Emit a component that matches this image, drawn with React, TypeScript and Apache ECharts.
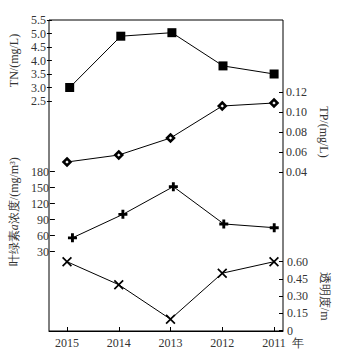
import React, { useEffect, useRef } from "react";
import * as echarts from "echarts";

const years = ["2015", "2014", "2013", "2012", "2011"];
const tn = [3.0, 4.9, 5.03, 3.8, 3.5];
const tp = [0.05, 0.057, 0.074, 0.106, 0.109];
const chl = [56, 100, 152, 82, 75];
const sd = [0.6, 0.4, 0.1, 0.5, 0.6];

const XMIN = -0.348;
const XMAX = 4.174;
const FONT = "Liberation Serif";
const TXT = "#333";

const PLUS = "path://M3.4,0H6.6V3.4H10V6.6H6.6V10H3.4V6.6H0V3.4H3.4Z";
const CROSS = "path://M0,1.2L1.2,0L5,3.8L8.8,0L10,1.2L6.2,5L10,8.8L8.8,10L5,6.2L1.2,10L0,8.8L3.8,5Z";

export default function App() {
  const ref = useRef<HTMLDivElement>(null);
  useEffect(() => {
    if (!ref.current) return;
    const chart = echarts.init(ref.current, null, { renderer: "svg" });
    const L = 49, R = 78;
    const pts = (arr: number[]) => arr.map((v, i) => [i, v]);
    const hiddenX = (g: number) => ({ gridIndex: g, type: "value", min: XMIN, max: XMAX, show: false, axisLine: { onZero: false } });
    const label = (margin: number, fmt: (v: number) => string) => ({
      margin, fontSize: 12, color: TXT, fontFamily: FONT, formatter: fmt,
    });
    const nameStyle = { fontSize: 12, color: TXT, fontFamily: FONT, rich: { i: { fontStyle: "italic", fontSize: 12, color: TXT, fontFamily: FONT } } };
    const lineSeries = (idx: number, data: number[], symbol: string, size: number, item: any) => ({
      type: "line", xAxisIndex: idx, yAxisIndex: idx, data: pts(data), symbol, symbolSize: size,
      showAllSymbol: true, lineStyle: { color: "#000", width: 1 }, itemStyle: item,
    });
    chart.setOption({
      animation: false,
      grid: [
        { left: L, right: R, top: 20, bottom: 22, show: true, borderColor: "#000", borderWidth: 1, backgroundColor: "transparent" },
        { left: L, right: R, top: 20, height: 81 },
        { left: L, right: R, top: 92, height: 80 },
        { left: L, right: R, top: 171.7, height: 80 },
        { left: L, right: R, top: 261.7, height: 69 },
      ],
      xAxis: [
        {
          gridIndex: 0, type: "value", min: XMIN, max: XMAX, position: "bottom",
          axisLine: { show: true, onZero: false, lineStyle: { color: "#000", width: 1 } },
          axisTick: { show: true, inside: true, length: 4, lineStyle: { color: "#000" }, customValues: [0, 1, 2, 3, 4] },
          axisLabel: { ...label(6, (v: number) => years[Math.round(v)] ?? ""), customValues: [0, 1, 2, 3, 4] },
          splitLine: { show: false },
          name: "年", nameLocation: "end", nameGap: 4,
          nameTextStyle: { ...nameStyle, verticalAlign: "top", padding: [6, 0, 0, 0] },
        },
        hiddenX(1), hiddenX(2), hiddenX(3), hiddenX(4),
      ],
      yAxis: [
        { gridIndex: 0, type: "value", min: 0, max: 1, show: false, axisLine: { onZero: false } },
        {
          gridIndex: 1, type: "value", position: "left", min: 2.5, max: 5.5, interval: 0.5,
          axisLine: { show: false, onZero: false }, splitLine: { show: false },
          axisTick: { show: true, inside: false, length: 5, lineStyle: { color: "#000" } },
          axisLabel: label(6, (v: number) => v.toFixed(1)),
          name: "TN/(mg/L)", nameLocation: "middle", nameGap: 23, nameTextStyle: nameStyle,
        },
        {
          gridIndex: 2, type: "value", position: "right", min: 0.04, max: 0.12, interval: 0.02,
          axisLine: { show: false, onZero: false }, splitLine: { show: false },
          axisTick: { show: true, inside: true, length: 4, lineStyle: { color: "#000" } },
          axisLabel: label(3, (v: number) => v.toFixed(2)),
          name: "TP/(mg/L)", nameLocation: "middle", nameGap: 27, nameRotate: -90, nameTextStyle: nameStyle,
        },
        {
          gridIndex: 3, type: "value", position: "left", min: 30, max: 180, interval: 30,
          axisLine: { show: false, onZero: false }, splitLine: { show: false },
          axisTick: { show: true, inside: false, length: 5, lineStyle: { color: "#000" } },
          axisLabel: label(6, (v: number) => String(Math.round(v))),
          name: "叶绿素{i|a}浓度/(mg/m³)", nameLocation: "middle", nameGap: 31, nameTextStyle: nameStyle,
        },
        {
          gridIndex: 4, type: "value", position: "right", min: 0, max: 0.6, interval: 0.15,
          axisLine: { show: false, onZero: false }, splitLine: { show: false },
          axisTick: { show: true, inside: true, length: 4, lineStyle: { color: "#000" } },
          axisLabel: label(4, (v: number) => (v === 0 ? "0" : v.toFixed(2))),
          name: "透明度/m", nameLocation: "middle", nameGap: 29, nameRotate: -90, nameTextStyle: nameStyle,
        },
      ],
      series: [
        lineSeries(1, tn, "rect", 9, { color: "#000" }),
        lineSeries(2, tp, "diamond", 7, { color: "#fff", borderColor: "#000", borderWidth: 2.5 }),
        lineSeries(3, chl, PLUS, 9, { color: "#000" }),
        lineSeries(4, sd, CROSS, 10, { color: "#000" }),
      ],
    });
    return () => chart.dispose();
  }, []);
  return (
    <div
      ref={ref}
      style={{ position: "fixed", left: 0, top: 0, width: 361, height: 353, background: "#fff" }}
    />
  );
}
